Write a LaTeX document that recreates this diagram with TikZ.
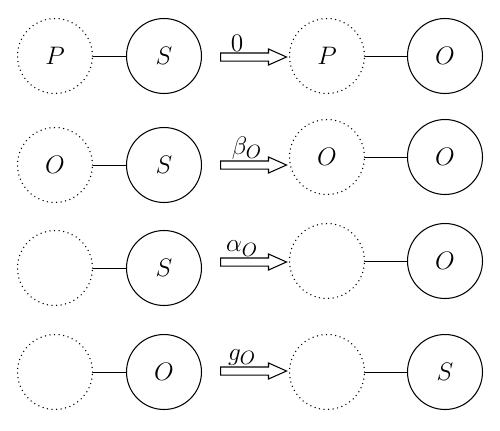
\documentclass[tikz,border=0pt]{standalone}
\usetikzlibrary{positioning,shapes.arrows}

\begin{document}
\begin{tikzpicture}
[
x=0.02cm, y=-0.02cm,
every node/.style={font=\fontsize{15}{18}\selectfont},
state/.style={circle, draw, line width=0.6pt, minimum size=1.5cm, inner sep=0pt},
ghost/.style={circle, draw, line width=0.85pt, line cap=round, dash pattern=on 0pt off 2.6pt, minimum size=1.5cm, inner sep=0pt},
move/.style={single arrow, draw, line width=0.6pt, inner xsep=0pt, inner ysep=0.07cm, minimum height=1.32cm, single arrow head extend=0.08cm, single arrow tip angle=48},
rate/.style={inner sep=0.5pt},
link/.style={line width=0.55pt}
]
\useasboundingbox (0,0) rectangle (500,430);

% row 1
\node[ghost] (p1) at (55,56) {$P$};
\node[state] (s1) at (164,56) {$S$};
\node[move] (m1) at (249,57) {};
\node[rate, above=0pt of m1, xshift=-0.24cm] (r1) {$0$};
\node[ghost] (q1) at (327,56) {$P$};
\node[state] (t1) at (445,56) {$O$};
\draw[link] (p1) -- (s1);
\draw[link] (q1) -- (t1);

% row 2
\node[ghost] (p2) at (55,165) {$O$};
\node[state] (s2) at (164,165) {$S$};
\node[move] (m2) at (249,165) {};
\node[rate, above=0pt of m2, xshift=-0.04cm] (r2) {$\beta_O$};
\node[ghost] (q2) at (327,157) {$O$};
\node[state] (t2) at (445,157) {$O$};
\draw[link] (p2) -- (s2);
\draw[link] (q2) -- (t2);

% row 3
\node[ghost] (p3) at (55,268) {};
\node[state] (s3) at (164,268) {$S$};
\node[move] (m3) at (249,262) {};
\node[rate, above=0pt of m3, xshift=-0.14cm] (r3) {$\alpha_O$};
\node[ghost] (q3) at (327,261) {};
\node[state] (t3) at (445,261) {$O$};
\draw[link] (p3) -- (s3);
\draw[link] (q3) -- (t3);

% row 4
\node[ghost] (p4) at (55,372) {};
\node[state] (s4) at (164,372) {$O$};
\node[move] (m4) at (249,371) {};
\node[rate, above=0pt of m4, xshift=-0.14cm] (r4) {$g_O$};
\node[ghost] (q4) at (327,372) {};
\node[state] (t4) at (445,372) {$S$};
\draw[link] (p4) -- (s4);
\draw[link] (q4) -- (t4);
\end{tikzpicture}
\end{document}
